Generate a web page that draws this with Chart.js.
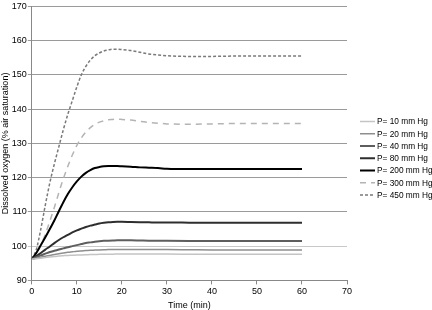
<!DOCTYPE html>
<html>
<head>
<meta charset="utf-8">
<script src="https://cdn.jsdelivr.net/npm/chart.js@4"></script>
<style>
html,body{margin:0;padding:0;background:#fff;}
#wrap{width:432px;height:310px;}
</style>
</head>
<body>
<div id="wrap"><canvas id="c" width="432" height="310"></canvas></div>
<script>
const times = [0,1,2,3,4,5,6,7,8,9,10,11,12,13,14,15,16,17,18,19,20,22,24,26,28,30,35,40,45,50,55,60];
const seriesLabels = ["P= 10 mm Hg","P= 20 mm Hg","P= 40 mm Hg","P= 80 mm Hg","P= 200 mm Hg","P= 300 mm Hg","P= 450 mm Hg"];
const p10  = [96.2,96.35,96.5,96.65,96.8,96.95,97.1,97.2,97.3,97.35,97.4,97.45,97.5,97.55,97.55,97.6,97.6,97.65,97.65,97.7,97.7,97.7,97.7,97.7,97.7,97.7,97.65,97.6,97.6,97.6,97.6,97.6];
const p20  = [96.2,96.5,96.8,97.05,97.3,97.55,97.8,98.0,98.2,98.35,98.5,98.6,98.7,98.8,98.85,98.9,98.95,99.0,99.0,99.0,99.0,99.0,99.0,99.0,99.0,99.0,98.95,98.9,98.9,98.9,98.9,98.9];
const p40  = [96.2,96.75,97.3,97.8,98.3,98.65,99.0,99.35,99.7,100.0,100.3,100.6,100.9,101.1,101.3,101.45,101.55,101.6,101.65,101.7,101.7,101.7,101.65,101.6,101.6,101.55,101.5,101.5,101.5,101.5,101.5,101.5];
const p80  = [96.2,97.1,98.0,99.0,99.9,100.9,101.8,102.6,103.3,104.0,104.6,105.1,105.6,106.0,106.3,106.6,106.8,106.95,107.05,107.1,107.1,107.05,107.0,106.95,106.9,106.9,106.85,106.8,106.8,106.8,106.8,106.8];
const p200 = [96.2,98.0,100.3,102.6,105.0,107.5,110.2,112.8,115.2,117.2,118.9,120.3,121.4,122.2,122.8,123.1,123.3,123.4,123.4,123.4,123.3,123.2,123.0,122.9,122.8,122.6,122.5,122.5,122.5,122.5,122.5,122.5];
const p300 = [96.2,97.8,100.2,103.5,107.3,111.3,115.6,119.7,123.3,126.6,129.4,131.6,133.3,134.6,135.6,136.2,136.6,136.9,137.0,137.1,137.0,136.8,136.4,136.1,135.9,135.7,135.6,135.7,135.8,135.8,135.8,135.8];
const p450 = [96.2,99.0,105.0,112.0,118.5,124.0,129.0,134.0,138.5,142.5,146.5,150.0,152.5,154.3,155.6,156.4,157.0,157.3,157.5,157.5,157.4,157.1,156.6,156.1,155.8,155.6,155.4,155.4,155.5,155.5,155.5,155.5];
const seriesValues = [p10,p20,p40,p80,p200,p300,p450];

const colors = ["#c4c4c4","#8e8e8e","#5e5e5e","#2e2e2e","#000000","#b4b4b4","#7a7a7a"];
const widths = [1.5,1.5,2,2,2,1.5,1.5];
const dashes = [[],[],[],[],[],[6,5],[3,2]];

const datasets = seriesValues.map((vals,i)=>({
  label: seriesLabels[i],
  data: times.map((t,j)=>({x:t,y:vals[j]})),
  borderColor: colors[i],
  backgroundColor: colors[i],
  borderWidth: widths[i],
  borderDash: dashes[i],
  pointRadius: 0,
  cubicInterpolationMode: 'monotone',
  fill: false
}));

const FONT = "'Liberation Sans', Arial, sans-serif";

// Legend drawn to the right of the plot, from the chart's own datasets
const sideLegend = {
  id: 'sideLegend',
  afterDraw(chart) {
    const ctx = chart.ctx;
    const x0 = 360, x1 = 375, tx = 377, y0 = 121.5, dy = 12.25;
    ctx.save();
    ctx.font = "8.3px " + FONT;
    ctx.textBaseline = 'middle';
    ctx.textAlign = 'left';
    chart.data.datasets.forEach((ds, i) => {
      const y = y0 + i * dy;
      ctx.beginPath();
      ctx.strokeStyle = ds.borderColor;
      ctx.lineWidth = ds.borderWidth;
      ctx.setLineDash(ds.borderDash || []);
      ctx.moveTo(x0, y);
      ctx.lineTo(x1, y);
      ctx.stroke();
      ctx.setLineDash([]);
      ctx.fillStyle = '#000';
      ctx.fillText(ds.label, tx, y + 0.5);
    });
    ctx.restore();
  }
};

new Chart(document.getElementById('c'), {
  type: 'line',
  data: { datasets },
  plugins: [sideLegend],
  options: {
    responsive: false,
    animation: false,
    devicePixelRatio: 1,
    layout: { padding: { top: -4.5, right: 85, left: 0, bottom: -1 } },
    plugins: {
      tooltip: { enabled: false },
      legend: { display: false }
    },
    scales: {
      x: {
        type: 'linear',
        min: 0, max: 70,
        ticks: { stepSize: 10, color: '#000', font: { family: FONT, size: 9 }, padding: 2, maxRotation: 0 },
        grid: { drawOnChartArea: false, drawTicks: true, tickLength: 4, color: '#888' },
        border: { color: '#888', width: 1 },
        title: { display: true, text: 'Time (min)', color: '#000', font: { family: FONT, size: 9 }, padding: { top: 1, bottom: 0 } }
      },
      y: {
        min: 90, max: 170,
        ticks: { stepSize: 10, color: '#000', font: { family: FONT, size: 9 }, padding: 1 },
        grid: {
          drawTicks: true, tickLength: 4,
          color: (ctx) => (ctx.tick && ctx.tick.value === 100) ? '#c8c8c8' : '#9a9a9a'
        },
        border: { color: '#888', width: 1 },
        title: { display: true, text: 'Dissolved oxygen (% air saturation)', color: '#000', font: { family: FONT, size: 9 }, padding: { top: 0, bottom: 0 } }
      }
    }
  }
});
</script>
</body>
</html>
